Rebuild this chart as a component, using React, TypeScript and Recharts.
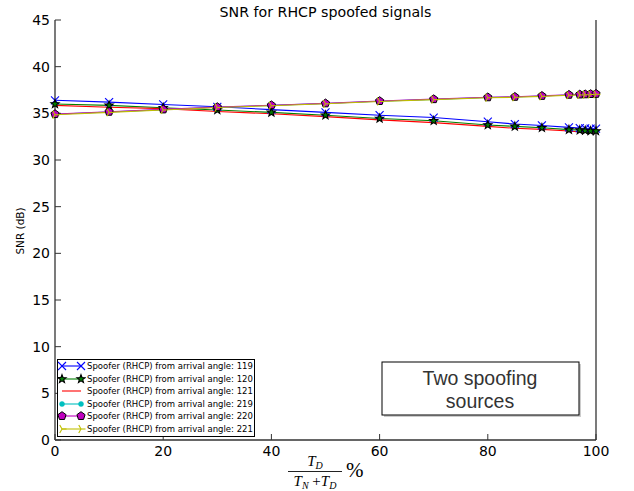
import React from "react";
import { LineChart, Line, XAxis, YAxis, Legend } from "recharts";

// percentage T_D / (T_N + T_D)
const ratioPct = [0, 10, 20, 30, 40, 50, 60, 70, 80, 85, 90, 95, 97, 98, 99, 100];

// SNR (dB) per spoofer arrival angle
const snr119 = [36.4, 36.2, 35.95, 35.7, 35.4, 35.1, 34.8, 34.55, 34.1, 33.85, 33.7, 33.5, 33.42, 33.4, 33.37, 33.35];
const snr120 = [36.0, 35.85, 35.6, 35.35, 35.1, 34.8, 34.45, 34.2, 33.75, 33.6, 33.45, 33.25, 33.2, 33.15, 33.12, 33.1];
const snr121 = [35.85, 35.65, 35.5, 35.2, 34.95, 34.65, 34.3, 34.0, 33.6, 33.4, 33.28, 33.1, 33.0, 32.98, 32.95, 32.92];
const snr219 = [34.9, 35.15, 35.4, 35.65, 35.85, 36.05, 36.3, 36.5, 36.7, 36.75, 36.85, 36.97, 37.0, 37.02, 37.05, 37.07];
const snr220 = [34.92, 35.17, 35.42, 35.67, 35.87, 36.07, 36.32, 36.52, 36.72, 36.77, 36.87, 36.99, 37.02, 37.04, 37.07, 37.09];
const snr221 = [34.85, 35.1, 35.36, 35.62, 35.82, 36.02, 36.27, 36.47, 36.67, 36.72, 36.82, 36.94, 36.97, 36.99, 37.02, 37.04];

const xTicks = [0, 20, 40, 60, 80, 100];
const yTicks = [0, 5, 10, 15, 20, 25, 30, 35, 40, 45];

const chartData = ratioPct.map((x, i) => ({
  x,
  a119: snr119[i],
  a120: snr120[i],
  a121: snr121[i],
  a219: snr219[i],
  a220: snr220[i],
  a221: snr221[i],
}));

type MarkerKind = "x" | "star" | "none" | "circle" | "pentagon" | "tri";

interface SeriesDef {
  key: string;
  label: string;
  color: string;
  marker: MarkerKind;
}

const series: SeriesDef[] = [
  { key: "a119", label: "Spoofer (RHCP) from arrival angle: 119", color: "#0000ff", marker: "x" },
  { key: "a120", label: "Spoofer (RHCP) from arrival angle: 120", color: "#008000", marker: "star" },
  { key: "a121", label: "Spoofer (RHCP) from arrival angle: 121", color: "#ff0000", marker: "none" },
  { key: "a219", label: "Spoofer (RHCP) from arrival angle: 219", color: "#00bfbf", marker: "circle" },
  { key: "a220", label: "Spoofer (RHCP) from arrival angle: 220", color: "#bf00bf", marker: "pentagon" },
  { key: "a221", label: "Spoofer (RHCP) from arrival angle: 221", color: "#bfbf00", marker: "tri" },
];

const polygon = (cx: number, cy: number, n: number, rOuter: number, rInner?: number) => {
  const pts: string[] = [];
  const count = rInner ? n * 2 : n;
  for (let k = 0; k < count; k++) {
    const r = rInner && k % 2 === 1 ? rInner : rOuter;
    const a = (-90 + (k * 360) / count) * (Math.PI / 180);
    pts.push(`${cx + r * Math.cos(a)},${cy + r * Math.sin(a)}`);
  }
  return pts.join(" ");
};

const Marker = ({ kind, cx, cy, color }: { kind: MarkerKind; cx: number; cy: number; color: string }) => {
  switch (kind) {
    case "x":
      return (
        <g stroke={color} strokeWidth={1.1}>
          <line x1={cx - 4} y1={cy - 4} x2={cx + 4} y2={cy + 4} />
          <line x1={cx - 4} y1={cy + 4} x2={cx + 4} y2={cy - 4} />
        </g>
      );
    case "star":
      return <polygon points={polygon(cx, cy, 5, 4.3, 1.8)} fill={color} stroke="#000" strokeWidth={1.1} />;
    case "circle":
      return <circle cx={cx} cy={cy} r={2.5} fill={color} stroke={color} strokeWidth={0.5} />;
    case "pentagon":
      return <polygon points={polygon(cx, cy, 5, 4.3)} fill={color} stroke="#000" strokeWidth={1} />;
    case "tri":
      return (
        <g stroke={color} strokeWidth={1.1}>
          <line x1={cx} y1={cy} x2={cx + 4.5} y2={cy} />
          <line x1={cx} y1={cy} x2={cx - 2.25} y2={cy - 3.9} />
          <line x1={cx} y1={cy} x2={cx - 2.25} y2={cy + 3.9} />
        </g>
      );
    default:
      return null;
  }
};

const dotRenderer = (s: SeriesDef) => (props: any) => {
  const { cx, cy, index } = props;
  if (s.marker === "none" || cx == null || cy == null) return <g key={`${s.key}-${index}`} />;
  return (
    <g key={`${s.key}-${index}`}>
      <Marker kind={s.marker} cx={cx} cy={cy} color={s.color} />
    </g>
  );
};

const LegendBox = (props: any) => {
  const payload: any[] = props.payload || [];
  return (
    <div
      style={{
        border: "1px solid #000",
        background: "#fff",
        width: 196,
        height: 76,
        boxSizing: "content-box",
      }}
    >
      {payload.map((p) => {
        const s = series.find((d) => d.key === p.dataKey);
        if (!s) return null;
        return (
          <div key={s.key} style={{ display: "flex", alignItems: "center", height: 12.5 }}>
            <svg width={28} height={12} style={{ flex: "none" }}>
              <line x1={4} y1={6} x2={23} y2={6} stroke={s.color} strokeWidth={1.1} />
              <Marker kind={s.marker} cx={4} cy={6} color={s.color} />
              <Marker kind={s.marker} cx={23} cy={6} color={s.color} />
            </svg>
            <span style={{ fontFamily: "DejaVu Sans", fontSize: 8.5, color: "#000", marginLeft: 1, whiteSpace: "nowrap" }}>
              {s.label}
            </span>
          </div>
        );
      })}
    </div>
  );
};

const tickFont = { fill: "#000", fontSize: 14, fontFamily: "DejaVu Sans" };
const frame = { stroke: "#333", strokeWidth: 1.3 };
const tickLine = { stroke: "#333", strokeWidth: 1 };

export default function App() {
  return (
    <div style={{ position: "absolute", left: 0, top: 0, width: 634, height: 491, background: "#fff" }}>
      <LineChart width={634} height={491} data={chartData} margin={{ top: 20, right: 37, bottom: 21, left: 10 }}>
        <XAxis
          dataKey="x"
          type="number"
          domain={[0, 100]}
          ticks={xTicks}
          tickSize={-6}
          tickMargin={12}
          axisLine={frame}
          tickLine={tickLine}
          tick={tickFont}
          height={30}
          interval={0}
        />
        <XAxis
          xAxisId="top"
          orientation="top"
          dataKey="x"
          type="number"
          domain={[0, 100]}
          ticks={xTicks}
          tickSize={-6}
          tickFormatter={() => ""}
          axisLine={frame}
          tickLine={tickLine}
          height={0}
          interval={0}
        />
        <YAxis
          type="number"
          domain={[0, 45]}
          ticks={yTicks}
          tickSize={-6}
          tickMargin={11}
          axisLine={frame}
          tickLine={tickLine}
          tick={tickFont}
          width={45}
          interval={0}
        />
        <YAxis
          yAxisId="right"
          orientation="right"
          type="number"
          domain={[0, 45]}
          ticks={yTicks}
          tickSize={-6}
          tickFormatter={() => ""}
          axisLine={frame}
          tickLine={tickLine}
          width={1}
          interval={0}
        />
        {series.map((s) => (
          <Line
            key={s.key}
            dataKey={s.key}
            name={s.label}
            type="linear"
            stroke={s.color}
            strokeWidth={1.1}
            dot={dotRenderer(s)}
            activeDot={false}
            isAnimationActive={false}
          />
        ))}
        <Legend
          layout="vertical"
          align="center"
          verticalAlign="middle"
          content={<LegendBox />}
          wrapperStyle={{ left: 57, top: 359, width: 198, height: 78 }}
        />
      </LineChart>

      <svg
        width={634}
        height={491}
        style={{ position: "absolute", left: 0, top: 0, pointerEvents: "none" }}
      >
        <text x={325.5} y={17} textAnchor="middle" fontFamily="DejaVu Sans" fontSize={14.2} fill="#000">
          SNR for RHCP spoofed signals
        </text>
        <text
          x={24}
          y={231}
          textAnchor="middle"
          fontFamily="DejaVu Sans"
          fontSize={10.5}
          fill="#000"
          transform="rotate(-90 24 231)"
        >
          SNR (dB)
        </text>

        {/* x label: T_D / (T_N + T_D) % */}
        <g fontFamily="Liberation Serif" fill="#000">
          <text x={315} y={466} textAnchor="middle" fontSize={15} fontStyle="italic">
            T<tspan fontSize={10} dy={3}>D</tspan>
          </text>
          <line x1={288} y1={471.5} x2={342} y2={471.5} stroke="#222" strokeWidth={1} />
          <text x={315} y={486} textAnchor="middle" fontSize={15} fontStyle="italic">
            T<tspan fontSize={10} dy={3}>N</tspan>
            <tspan dy={-3} fontStyle="normal"> +</tspan>
            <tspan>T</tspan>
            <tspan fontSize={10} dy={3}>D</tspan>
          </text>
          <text x={346} y={477} fontSize={21}>%</text>
        </g>

        {/* annotation box */}
        <rect x={384} y={364} width={197} height={53} fill="#ccc" />
        <rect x={382} y={362} width={197} height={53} fill="#fff" stroke="#000" strokeWidth={1} />
        <g fontFamily="Liberation Sans" fontSize={19.5} fill="#333" textAnchor="middle">
          <text x={480} y={385}>Two spoofing</text>
          <text x={480} y={408}>sources</text>
        </g>
      </svg>
    </div>
  );
}
